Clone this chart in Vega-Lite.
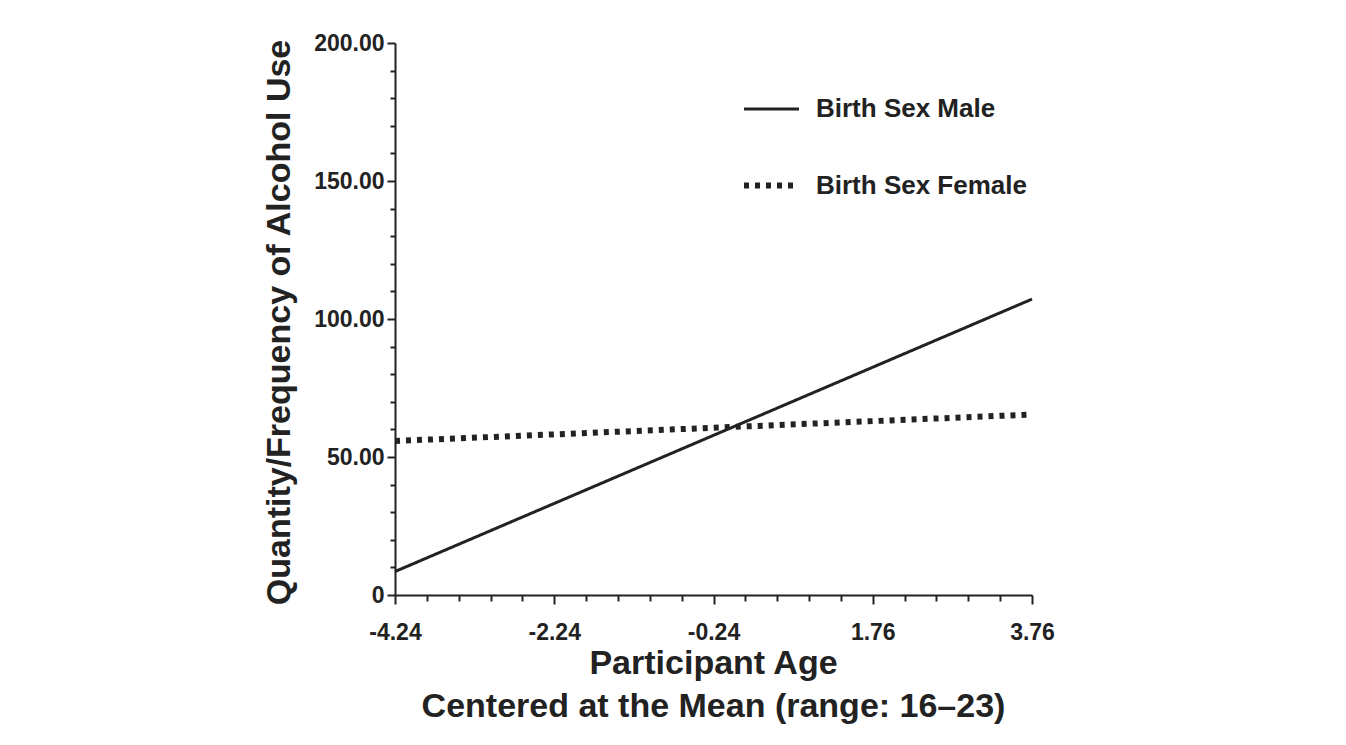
{
  "$schema": "https://vega.github.io/schema/vega-lite/v6.json",
  "width": 637,
  "height": 552,
  "autosize": {"type": "none"},
  "padding": {"left": 395, "top": 43, "right": 314, "bottom": 150},
  "background": "white",
  "config": {
    "view": {"stroke": null},
    "font": "Liberation Sans",
    "axis": {
      "domainColor": "#222",
      "domainWidth": 2,
      "tickColor": "#222",
      "tickWidth": 2,
      "grid": false,
      "labelFont": "Liberation Sans",
      "labelFontWeight": "bold",
      "labelFontSize": 23,
      "labelColor": "#222",
      "titleFont": "Liberation Sans",
      "titleFontWeight": "bold",
      "titleColor": "#222"
    }
  },
  "data": {
    "values": [
      {"sex": "Birth Sex Male", "age": -4.24, "value": 8.5},
      {"sex": "Birth Sex Male", "age": 3.76, "value": 107.2},
      {"sex": "Birth Sex Female", "age": -4.24, "value": 55.8},
      {"sex": "Birth Sex Female", "age": 3.76, "value": 65.4}
    ]
  },
  "mark": {"type": "line", "color": "#222", "strokeCap": "butt"},
  "encoding": {
    "x": {
      "field": "age",
      "type": "quantitative",
      "scale": {"domain": [-4.24, 3.76], "nice": false, "zero": false},
      "axis": {
        "values": [-4.24,-3.84,-3.44,-3.04,-2.64,-2.24,-1.84,-1.44,-1.04,-0.64,-0.24,0.16,0.56,0.96,1.36,1.76,2.16,2.56,2.96,3.36,3.76],
        "labelExpr": "abs((datum.value + 4.24) / 2 - round((datum.value + 4.24) / 2)) < 0.01 ? replace(format(datum.value,'.2f'), '−', '-') : ''",
        "tickSize": {"condition": {"test": "abs((datum.value + 4.24) / 2 - round((datum.value + 4.24) / 2)) < 0.01", "value": 9}, "value": 6},
        "labelPadding": 17,
        "labelFlush": false,
        "labelOverlap": false,
        "title": ["Participant Age", "Centered at the Mean (range: 16–23)"],
        "titleFontSize": 34,
        "titleLineHeight": 43,
        "titleBaseline": "top",
        "titleY": 51,
        "titleX": 318
      }
    },
    "y": {
      "field": "value",
      "type": "quantitative",
      "scale": {"domain": [0, 200], "nice": false},
      "axis": {
        "values": [0,10,20,30,40,50,60,70,80,90,100,110,120,130,140,150,160,170,180,190,200],
        "labelExpr": "datum.value % 50 === 0 ? (datum.value === 0 ? '0' : format(datum.value, '.2f')) : ''",
        "tickSize": {"condition": {"test": "datum.value % 50 === 0", "value": 8}, "value": 5},
        "labelPadding": 3,
        "labelOverlap": false,
        "labelFlush": false,
        "title": "Quantity/Frequency of Alcohol Use",
        "titleFontSize": 34,
        "titleAngle": -90,
        "titleBaseline": "middle",
        "titleAnchor": "middle",
        "titleX": -116,
        "titleY": 279
      }
    },
    "strokeDash": {
      "field": "sex",
      "type": "nominal",
      "scale": {"domain": ["Birth Sex Male", "Birth Sex Female"], "range": [[1, 0], [5, 6]]},
      "legend": {
        "title": null,
        "orient": "none",
        "legendX": 346,
        "legendY": 37,
        "padding": 0,
        "symbolType": "stroke",
        "symbolSize": 3025,
        "symbolStrokeColor": "#222",
        "labelFont": "Liberation Sans",
        "labelFontWeight": "bold",
        "labelFontSize": 26,
        "labelColor": "#222",
        "labelOffset": 14,
        "labelLimit": 500,
        "rowPadding": 33
      }
    },
    "strokeWidth": {
      "field": "sex",
      "type": "nominal",
      "scale": {"domain": ["Birth Sex Male", "Birth Sex Female"], "range": [3, 6]},
      "legend": {
        "title": null,
        "orient": "none",
        "legendX": 346,
        "legendY": 37,
        "padding": 0,
        "symbolType": "stroke",
        "symbolSize": 3025,
        "symbolStrokeColor": "#222",
        "labelFont": "Liberation Sans",
        "labelFontWeight": "bold",
        "labelFontSize": 26,
        "labelColor": "#222",
        "labelOffset": 14,
        "labelLimit": 500,
        "rowPadding": 33
      }
    }
  }
}
